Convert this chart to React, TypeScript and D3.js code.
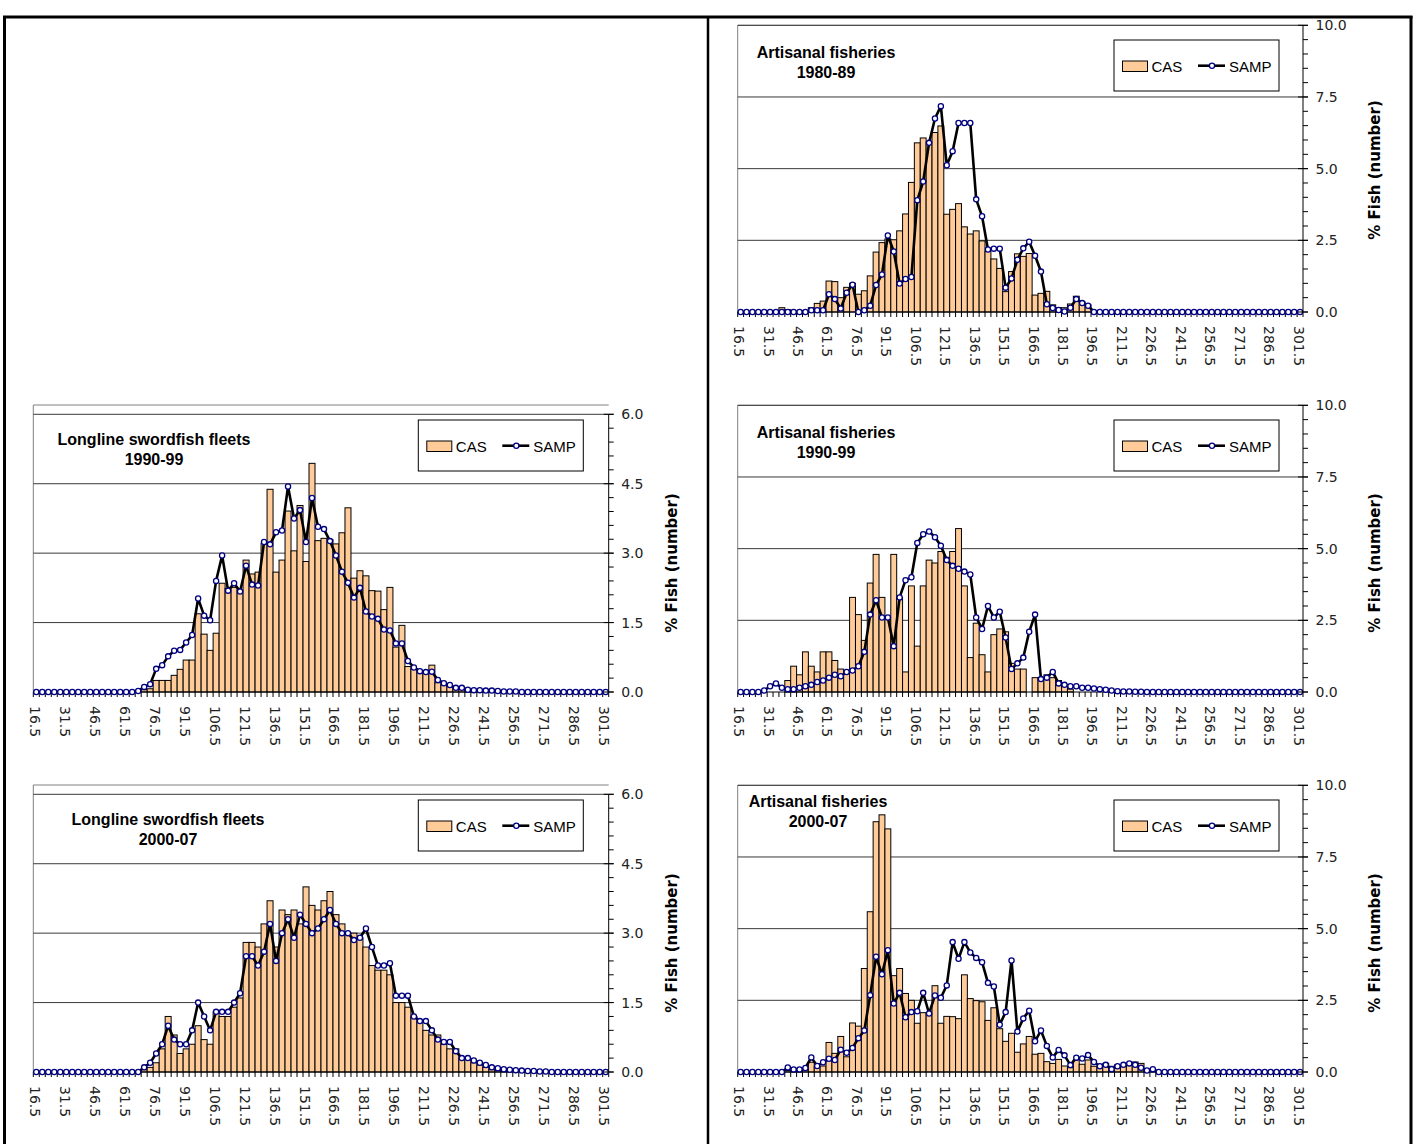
import React from 'react';
import * as d3 from 'd3';

// ---------- categories (length classes, cm) ----------
const lengthClasses: number[] = d3.range(16.5, 302, 3);
const tickEvery = 5;

// ---------- series (96 values each, % fish in number) ----------
const art8089CAS = [
  0, 0, 0, 0, 0, 0, 0, 0.15, 0.08, 0, 0, 0.05, 0.15, 0.3, 0.38, 1.08, 1.06, 0.5, 0.86, 1.0,
  0.62, 0.74, 1.26, 2.09, 2.42, 2.55, 2.52, 2.83, 3.42, 4.52, 5.9, 6.07, 5.93, 6.26, 6.49, 3.41, 3.58, 3.78, 2.97, 2.72,
  2.83, 2.48, 2.11, 1.85, 1.52, 0.71, 1.41, 2.03, 1.94, 2.04, 0.59, 0.65, 0.72, 0.25, 0.15, 0.15, 0.28, 0.55, 0.35, 0.25,
  0, 0, 0, 0, 0, 0, 0, 0, 0, 0, 0, 0, 0, 0, 0, 0, 0, 0, 0, 0,
  0, 0, 0, 0, 0, 0, 0, 0, 0, 0, 0, 0, 0, 0, 0, 0,
];
const art8089SAMP = [
  0, 0, 0, 0, 0, 0, 0, 0, 0, 0, 0, 0, 0.06, 0.06, 0.06, 0.62, 0.45, 0.12, 0.67, 0.95,
  0, 0.06, 0.22, 0.94, 1.31, 2.67, 2.11, 0.99, 1.15, 1.22, 3.9, 4.55, 5.9, 6.75, 7.18, 5.12, 5.61, 6.59, 6.59, 6.59,
  3.93, 3.34, 2.18, 2.21, 2.21, 0.85, 1.17, 1.82, 2.22, 2.45, 1.96, 1.41, 0.27, 0.14, 0.07, 0.02, 0.15, 0.45, 0.31, 0.22,
  0, 0, 0, 0, 0, 0, 0, 0, 0, 0, 0, 0, 0, 0, 0, 0, 0, 0, 0, 0,
  0, 0, 0, 0, 0, 0, 0, 0, 0, 0, 0, 0, 0, 0, 0, 0,
];

const ll9099CAS = [
  0, 0, 0, 0, 0, 0, 0, 0, 0, 0, 0, 0, 0, 0, 0, 0, 0, 0, 0.05, 0.07,
  0.25, 0.25, 0.25, 0.36, 0.49, 0.69, 0.69, 1.69, 1.25, 0.9, 1.27, 2.35, 2.24, 2.26, 2.2, 2.85, 2.55, 2.59, 3.21, 4.38,
  2.59, 2.85, 3.91, 3.05, 4.03, 2.82, 4.94, 3.27, 3.32, 3.29, 3.2, 3.44, 3.98, 2.46, 2.62, 2.51, 2.19, 2.18, 1.78, 2.26,
  0.97, 1.44, 0.55, 0.5, 0.45, 0.45, 0.58, 0.2, 0.15, 0.12, 0.08, 0.07, 0.04, 0.03, 0.02, 0.02, 0.01, 0, 0, 0,
  0, 0, 0, 0, 0, 0, 0, 0, 0, 0, 0, 0, 0, 0, 0, 0,
];
const ll9099SAMP = [
  0, 0, 0, 0, 0, 0, 0, 0, 0, 0, 0, 0, 0, 0, 0, 0, 0, 0.02, 0.11, 0.17,
  0.5, 0.58, 0.77, 0.89, 0.91, 1.07, 1.23, 2.02, 1.65, 1.55, 2.4, 2.95, 2.19, 2.35, 2.17, 2.73, 2.32, 2.3, 3.24, 3.19,
  3.45, 3.49, 4.44, 3.75, 3.93, 3.24, 4.19, 3.57, 3.52, 3.26, 2.95, 2.6, 2.36, 2.04, 2.25, 1.74, 1.63, 1.58, 1.35, 1.33,
  1.05, 1.05, 0.67, 0.53, 0.45, 0.43, 0.44, 0.26, 0.19, 0.15, 0.09, 0.09, 0.05, 0.04, 0.04, 0.03, 0.03, 0.02, 0.01, 0.01,
  0.01, 0, 0, 0, 0, 0, 0, 0, 0, 0, 0, 0, 0, 0, 0, 0,
];

const art9099CAS = [
  0, 0, 0, 0, 0, 0, 0, 0, 0.4, 0.9, 0.6, 1.4, 0.9, 0.7, 1.4, 1.4, 1.1, 0.8, 0.7, 3.3,
  2.7, 1.8, 3.8, 4.8, 3.3, 2.6, 4.8, 3.3, 0.7, 3.7, 1.6, 3.7, 4.6, 4.5, 4.9, 4.7, 4.9, 5.7, 3.7, 1.2,
  2.4, 1.3, 0.7, 2.0, 2.2, 2.1, 1.0, 0.8, 0.8, 0, 0.5, 0.5, 0.6, 0.5, 0.4, 0.2, 0.1, 0, 0, 0,
  0, 0, 0, 0, 0, 0, 0, 0, 0, 0, 0, 0, 0, 0, 0, 0, 0, 0, 0, 0,
  0, 0, 0, 0, 0, 0, 0, 0, 0, 0, 0, 0, 0, 0, 0, 0,
];
const art9099SAMP = [
  0, 0, 0, 0, 0.05, 0.2, 0.3, 0.15, 0.1, 0.1, 0.15, 0.2, 0.25, 0.35, 0.4, 0.5, 0.6, 0.55, 0.7, 0.75,
  0.9, 1.4, 2.7, 3.2, 2.6, 2.6, 1.6, 3.3, 3.9, 4.0, 5.2, 5.5, 5.6, 5.4, 5.1, 4.6, 4.4, 4.3, 4.2, 4.1,
  2.6, 2.2, 3.0, 2.6, 2.8, 1.9, 0.8, 1.0, 1.2, 2.1, 2.7, 0.45, 0.5, 0.7, 0.3, 0.25, 0.2, 0.2, 0.15, 0.15,
  0.12, 0.1, 0.08, 0.05, 0.03, 0.02, 0.02, 0.01, 0.01, 0, 0, 0, 0, 0, 0, 0, 0, 0, 0, 0,
  0, 0, 0, 0, 0, 0, 0, 0, 0, 0, 0, 0, 0, 0, 0, 0,
];

const ll0007CAS = [
  0, 0, 0, 0, 0, 0, 0, 0, 0, 0, 0, 0, 0, 0, 0, 0, 0, 0, 0.05, 0.1,
  0.2, 0.5, 1.2, 0.8, 0.4, 0.5, 0.6, 1.0, 0.7, 0.6, 1.3, 1.2, 1.2, 1.4, 1.6, 2.8, 2.8, 2.7, 3.2, 3.7,
  2.7, 3.5, 3.4, 3.5, 3.2, 4.0, 3.6, 3.5, 3.7, 3.9, 3.4, 3.2, 3.0, 3.0, 2.9, 2.7, 2.3, 2.2, 2.2, 2.1,
  1.5, 1.5, 1.4, 1.2, 1.1, 0.9, 0.8, 0.8, 0.6, 0.5, 0.5, 0.3, 0.3, 0.2, 0.15, 0.1, 0.05, 0.03, 0.02, 0.01,
  0, 0, 0, 0, 0, 0, 0, 0, 0, 0, 0, 0, 0, 0, 0, 0,
];
const ll0007SAMP = [
  0, 0, 0, 0, 0, 0, 0, 0, 0, 0, 0, 0, 0, 0, 0, 0, 0, 0, 0.1, 0.2,
  0.4, 0.6, 1.0, 0.7, 0.6, 0.6, 0.9, 1.5, 1.2, 0.9, 1.3, 1.3, 1.3, 1.5, 1.7, 2.5, 2.5, 2.3, 2.6, 3.2,
  2.4, 3.0, 3.3, 2.9, 3.4, 3.2, 3.0, 3.1, 3.3, 3.5, 3.2, 3.0, 3.0, 2.85, 2.9, 3.1, 2.7, 2.3, 2.3, 2.35,
  1.65, 1.65, 1.65, 1.2, 1.1, 1.1, 0.9, 0.7, 0.65, 0.65, 0.45, 0.3, 0.3, 0.25, 0.2, 0.15, 0.1, 0.08, 0.06, 0.05,
  0.04, 0.03, 0.02, 0.02, 0.01, 0.01, 0, 0, 0, 0, 0, 0, 0, 0, 0, 0,
];

const art0007CAS = [
  0, 0, 0, 0, 0, 0, 0, 0, 0.05, 0.05, 0.07, 0.07, 0.34, 0.19, 0.21, 1.03, 0.65, 1.24, 0.53, 1.71,
  1.6, 3.61, 5.59, 8.73, 8.97, 8.48, 3.36, 3.61, 2.74, 2.5, 1.7, 2.07, 2.07, 3.01, 1.7, 1.94, 1.93, 1.86, 3.39, 2.56,
  2.49, 2.45, 1.8, 2.24, 1.51, 1.07, 1.35, 0.69, 0.98, 1.24, 0.62, 0.65, 0.36, 0.3, 0.44, 0.21, 0.15, 0.42, 0.27, 0.42,
  0.2, 0.15, 0.3, 0.2, 0.25, 0.2, 0.3, 0.35, 0.3, 0.05, 0.02, 0, 0, 0, 0, 0, 0, 0, 0, 0,
  0, 0, 0, 0, 0, 0, 0, 0, 0, 0, 0, 0, 0, 0, 0, 0,
];
const art0007SAMP = [
  0, 0, 0, 0, 0, 0, 0, 0, 0.16, 0.09, 0.09, 0.14, 0.51, 0.21, 0.34, 0.46, 0.42, 0.78, 0.67, 0.84,
  1.18, 1.45, 2.68, 4.02, 3.41, 4.25, 2.39, 2.76, 1.91, 2.09, 2.12, 2.76, 2.04, 2.67, 2.59, 3.02, 4.53, 3.95, 4.53, 4.17,
  3.98, 3.83, 3.11, 2.98, 1.65, 2.09, 3.89, 1.41, 1.87, 2.14, 1.07, 1.45, 0.91, 0.51, 0.77, 0.58, 0.24, 0.5, 0.47, 0.59,
  0.35, 0.2, 0.25, 0.1, 0.2, 0.25, 0.3, 0.25, 0.15, 0.05, 0.1, 0, 0, 0, 0, 0, 0, 0, 0, 0,
  0, 0, 0, 0, 0, 0, 0, 0, 0, 0, 0, 0, 0, 0, 0, 0,
];

const legendLabels = ['CAS', 'SAMP'];
const yAxisTitle = '% Fish (number)';

// ---------- layout ----------
type Spec = {
  cas: number[]; samp: number[]; title: string[];
  x0: number; x1: number; yTop: number; yBot: number; boxTop: number;
  max: number; major: number; minor: number;
  titleX: number; titleY: number; legX: number; legY: number; yLabX: number; yLabY: number;
};

const panels: Spec[] = [
  { cas: art8089CAS, samp: art8089SAMP, title: ['Artisanal fisheries', '1980-89'],
    x0: 737.7, x1: 1303, yTop: 25.3, yBot: 312, boxTop: 25.3, max: 10, major: 2.5, minor: 0.5,
    titleX: 826, titleY: 57.7, legX: 1114, legY: 40, yLabX: 1375, yLabY: 170 },
  { cas: ll9099CAS, samp: ll9099SAMP, title: ['Longline swordfish fleets', '1990-99'],
    x0: 33.3, x1: 608.7, yTop: 414.3, yBot: 692, boxTop: 405, max: 6, major: 1.5, minor: 0.3,
    titleX: 154, titleY: 445, legX: 418.3, legY: 420, yLabX: 672, yLabY: 563 },
  { cas: art9099CAS, samp: art9099SAMP, title: ['Artisanal fisheries', '1990-99'],
    x0: 737.7, x1: 1303, yTop: 405.3, yBot: 692, boxTop: 405.3, max: 10, major: 2.5, minor: 0.5,
    titleX: 826, titleY: 438, legX: 1114, legY: 420, yLabX: 1375, yLabY: 563 },
  { cas: ll0007CAS, samp: ll0007SAMP, title: ['Longline swordfish fleets', '2000-07'],
    x0: 33.3, x1: 608.7, yTop: 794.3, yBot: 1072, boxTop: 785, max: 6, major: 1.5, minor: 0.3,
    titleX: 168, titleY: 825, legX: 418.3, legY: 800, yLabX: 672, yLabY: 943 },
  { cas: art0007CAS, samp: art0007SAMP, title: ['Artisanal fisheries', '2000-07'],
    x0: 737.7, x1: 1303, yTop: 785.3, yBot: 1072, boxTop: 785.3, max: 10, major: 2.5, minor: 0.5,
    titleX: 818, titleY: 807, legX: 1114, legY: 800, yLabX: 1375, yLabY: 943 },
];

const BAR_FILL = '#FFCC99';
const MARKER_STROKE = '#000080';
const GRID = '#3a3a3a';
const TICK_FONT = '"DejaVu Sans", Verdana, sans-serif';
const TEXT_FONT = '"Liberation Sans", Arial, sans-serif';

function Panel({ p }: { p: Spec }) {
  const idx = d3.range(lengthClasses.length);
  const x = d3.scaleBand<number>().domain(idx).range([p.x0, p.x1]).padding(0);
  const y = d3.scaleLinear().domain([0, p.max]).range([p.yBot, p.yTop]);
  const bw = x.bandwidth();
  const cx = (i: number) => (x(i) as number) + bw / 2;
  const majors = d3.range(0, Math.round(p.max / p.major) + 1).map((k) => k * p.major);
  const minors = d3.range(0, Math.round(p.max / p.minor) + 1).map((k) => k * p.minor);
  const fmt = d3.format('.1f');
  const line = d3.line<number>().x((_, i) => cx(i)).y((d) => y(d));
  const lx = p.legX, ly = p.legY;

  return (
    <g>
      {/* plot area border (gray) */}
      <line x1={p.x0} x2={p.x0} y1={p.boxTop} y2={p.yBot} stroke="#808080" strokeWidth={1} />
      <line x1={p.x0} x2={p.x1} y1={p.boxTop} y2={p.boxTop} stroke="#808080" strokeWidth={1} />
      {/* gridlines */}
      {majors.filter((v) => v > 0).map((v) => (
        <line key={'g' + v} x1={p.x0} x2={p.x1} y1={y(v)} y2={y(v)} stroke={GRID} strokeWidth={1} />
      ))}
      {/* bars */}
      {p.cas.map((v, i) =>
        v > 0 ? (
          <rect key={'b' + i} x={x(i)} y={y(v)} width={bw} height={p.yBot - y(v)}
            fill={BAR_FILL} stroke="#000" strokeWidth={1} />
        ) : null
      )}
      {/* x axis */}
      <line x1={p.x0} x2={p.x1} y1={p.yBot} y2={p.yBot} stroke="#000" strokeWidth={1} />
      {d3.range(lengthClasses.length + 1).map((k) => {
        const xx = p.x0 + k * bw;
        return <line key={'xt' + k} x1={xx} x2={xx} y1={p.yBot} y2={p.yBot + 5} stroke="#000" strokeWidth={1} />;
      })}
      {lengthClasses.map((c, i) =>
        i % tickEvery === 0 ? (
          <text key={'xl' + i} transform={`translate(${cx(i) - 1.5},${p.yBot + 14}) rotate(90)`}
            fontFamily={TICK_FONT} fontSize={14} fill="#222" dominantBaseline="central" textAnchor="start">
            {fmt(c)}
          </text>
        ) : null
      )}
      {/* samp line */}
      <path d={line(p.samp) || ''} fill="none" stroke="#000" strokeWidth={2.6} strokeLinejoin="round" />
      {p.samp.map((v, i) => (
        <circle key={'m' + i} cx={cx(i)} cy={y(v)} r={2.6} fill="#fff" stroke={MARKER_STROKE} strokeWidth={1.3} />
      ))}
      {/* y axis (right) */}
      <line x1={p.x1} x2={p.x1} y1={p.yTop} y2={p.yBot} stroke="#000" strokeWidth={1} />
      {minors.map((v) => (
        <line key={'mn' + v} x1={p.x1} x2={p.x1 + 5} y1={y(v)} y2={y(v)} stroke="#000" strokeWidth={1} />
      ))}
      {majors.map((v) => (
        <g key={'mj' + v}>
          <line x1={p.x1 - 5} x2={p.x1 + 5} y1={y(v)} y2={y(v)} stroke="#000" strokeWidth={1} />
          <text x={p.x1 + 12.5} y={y(v)} fontFamily={TICK_FONT} fontSize={14} fill="#222" dominantBaseline="central">
            {fmt(v)}
          </text>
        </g>
      ))}
      <text transform={`translate(${p.yLabX},${p.yLabY}) rotate(-90)`} textAnchor="middle"
        dominantBaseline="central" fontFamily={TICK_FONT} fontWeight="bold" fontSize={15} fill="#000">
        {yAxisTitle}
      </text>
      {/* title */}
      {p.title.map((t, k) => (
        <text key={'t' + k} x={p.titleX} y={p.titleY + k * 20} textAnchor="middle"
          fontFamily={TEXT_FONT} fontWeight="bold" fontSize={16} fill="#000">{t}</text>
      ))}
      {/* legend */}
      <rect x={lx} y={ly} width={165} height={51} fill="#fff" stroke="#000" strokeWidth={1} />
      <rect x={lx + 8.5} y={ly + 21} width={25} height={10.5} fill={BAR_FILL} stroke="#000" strokeWidth={1} />
      <text x={lx + 37.5} y={ly + 32} fontFamily={TEXT_FONT} fontSize={15} fill="#000">{legendLabels[0]}</text>
      <line x1={lx + 84} x2={lx + 111} y1={ly + 25.7} y2={ly + 25.7} stroke="#000" strokeWidth={2.6} />
      <circle cx={lx + 98} cy={ly + 25.7} r={2.6} fill="#fff" stroke={MARKER_STROKE} strokeWidth={1.3} />
      <text x={lx + 115} y={ly + 32} fontFamily={TEXT_FONT} fontSize={15} fill="#000">{legendLabels[1]}</text>
    </g>
  );
}

export default function App() {
  return (
    <svg width={1415} height={1144} style={{ position: 'absolute', left: 0, top: 0, background: '#fff' }}>
      <rect x={0} y={0} width={1415} height={1144} fill="#fff" />
      {/* outer frame */}
      <line x1={4.5} x2={4.5} y1={16} y2={1144} stroke="#000" strokeWidth={3} />
      <line x1={1411} x2={1411} y1={16} y2={1144} stroke="#000" strokeWidth={3} />
      <line x1={3} x2={1412.5} y1={17} y2={17} stroke="#000" strokeWidth={3} />
      <line x1={708} x2={708} y1={16} y2={1144} stroke="#000" strokeWidth={2.5} />
      {panels.map((p, k) => <Panel key={k} p={p} />)}
    </svg>
  );
}
